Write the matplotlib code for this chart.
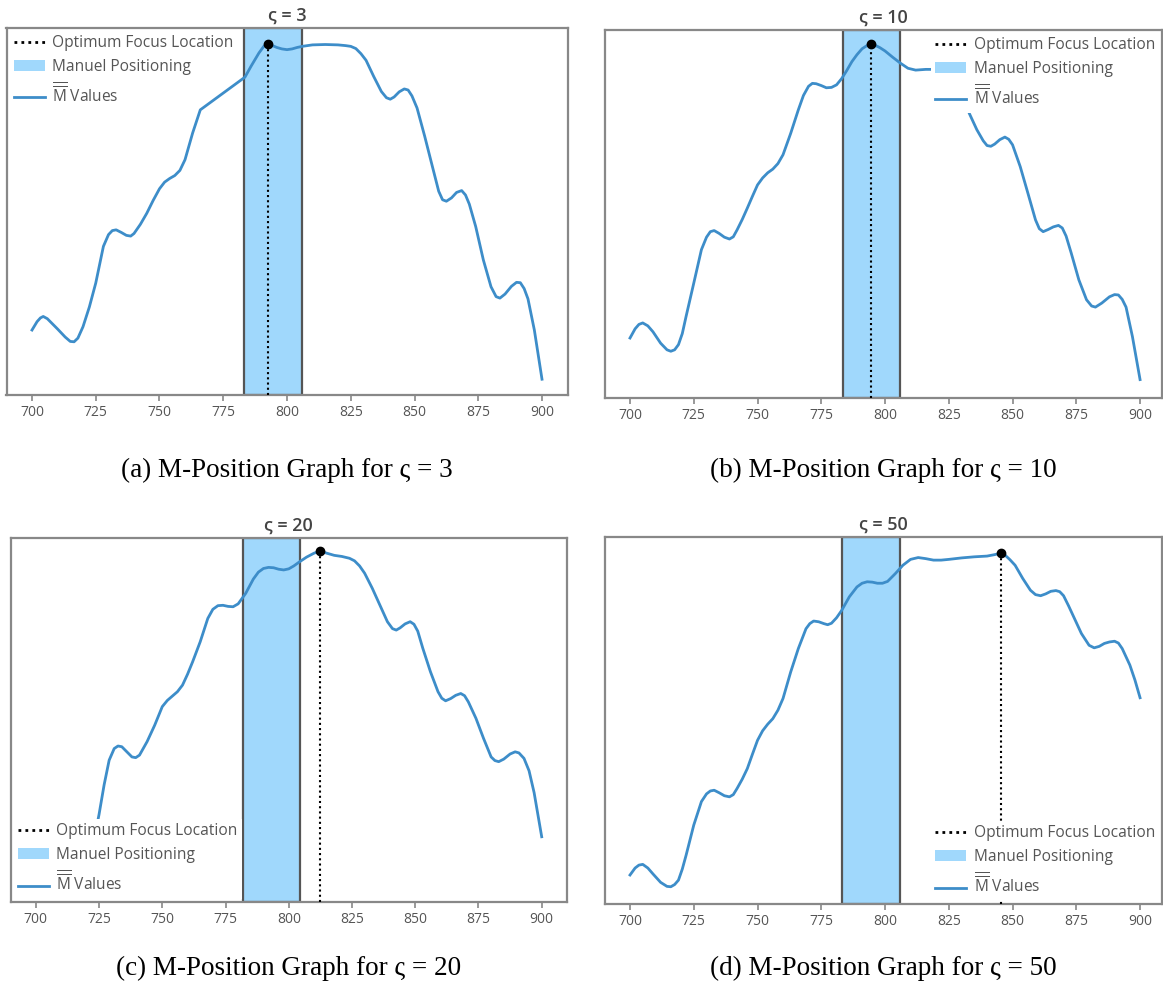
import matplotlib
matplotlib.use("Agg")
import matplotlib.pyplot as plt
from matplotlib.lines import Line2D
from matplotlib.patches import Patch

plt.rcParams['font.family'] = ['Open Sans', 'DejaVu Sans']
plt.rcParams['mathtext.fontset'] = 'custom'
plt.rcParams['mathtext.rm'] = 'Open Sans'

# ---- data (M values normalised to the plot height) ----
sigmas = [3, 10, 20, 50]
letters = ['a', 'b', 'c', 'd']

pos_a = [700, 702, 703.3, 704.4, 706, 708, 710, 713, 715, 716.5, 718, 720, 722.5, 725, 728,
         730, 731.5, 733, 735, 737, 738.7, 740, 742.5, 745, 747.5, 750, 752, 754, 756, 758,
         760, 763, 766, 783.5, 786, 789, 791, 792.5, 794, 796, 798, 800, 802, 804, 806, 810,
         815, 820, 823, 825, 827, 829, 831, 834, 837, 839, 840.5, 842, 844, 846, 847.5, 849,
         851, 854, 857, 859.5, 861, 862.5, 864.5, 866.5, 868.5, 870, 871.5, 874, 877, 880,
         882, 883.5, 885.5, 888, 890, 891.5, 893, 894.5, 897, 900]
m_a = [0.177, 0.200, 0.210, 0.214, 0.208, 0.194, 0.180, 0.158, 0.146, 0.145, 0.155, 0.186,
       0.240, 0.305, 0.405, 0.437, 0.448, 0.450, 0.443, 0.435, 0.433, 0.440, 0.465, 0.495,
       0.530, 0.562, 0.580, 0.590, 0.598, 0.612, 0.641, 0.714, 0.777, 0.866, 0.897, 0.932,
       0.951, 0.956, 0.953, 0.947, 0.943, 0.941, 0.943, 0.947, 0.950, 0.954, 0.955, 0.954,
       0.952, 0.950, 0.944, 0.930, 0.912, 0.868, 0.827, 0.810, 0.806, 0.812, 0.826, 0.834,
       0.831, 0.815, 0.782, 0.705, 0.623, 0.555, 0.532, 0.528, 0.537, 0.552, 0.557, 0.545,
       0.520, 0.459, 0.368, 0.295, 0.268, 0.264, 0.275, 0.296, 0.307, 0.306, 0.290, 0.262,
       0.177, 0.043]

pos_b = [700, 702, 703.5, 705, 707, 709, 712, 714.5, 716, 717.5, 719, 720.5, 722, 725, 728,
         730, 731.5, 733, 735, 737, 739, 740.5, 742, 744, 746, 748, 750, 752, 754, 756, 758,
         760, 763, 766, 768, 770, 771.5, 773, 775, 777, 779, 781, 783, 785, 787, 789, 791, 793,
         794.5, 796, 798, 800, 803, 806, 809, 812, 816, 820, 824, 828, 831, 833, 836, 838.5,
         840, 841.5, 843, 845, 847, 848.5, 850, 853, 856, 859, 860.5, 862, 864, 866, 868,
         869.5, 871, 873, 876, 879, 881, 882.5, 885, 888, 890, 891.5, 893, 894.5, 897, 900]
m_b = [0.163, 0.188, 0.200, 0.204, 0.196, 0.180, 0.149, 0.131, 0.127, 0.131, 0.145, 0.175,
       0.222, 0.312, 0.403, 0.437, 0.452, 0.455, 0.447, 0.437, 0.432, 0.438, 0.457, 0.485,
       0.516, 0.548, 0.579, 0.598, 0.612, 0.622, 0.637, 0.661, 0.719, 0.783, 0.822, 0.847,
       0.855, 0.854, 0.849, 0.843, 0.844, 0.851, 0.868, 0.890, 0.914, 0.933, 0.949, 0.958,
       0.961, 0.959, 0.952, 0.943, 0.926, 0.910, 0.896, 0.891, 0.893, 0.893, 0.885, 0.860,
       0.815, 0.774, 0.729, 0.699, 0.686, 0.684, 0.690, 0.702, 0.709, 0.703, 0.688, 0.629,
       0.557, 0.484, 0.460, 0.452, 0.458, 0.465, 0.469, 0.462, 0.440, 0.394, 0.321, 0.267,
       0.250, 0.247, 0.258, 0.275, 0.281, 0.280, 0.268, 0.247, 0.167, 0.050]

pos_c = [700, 702, 704, 707, 710, 713, 716, 718, 720, 723, 725, 727, 729, 731, 732.5, 734,
         736, 738, 739.5, 741, 744, 747, 750, 752, 754, 756, 758, 760, 762, 765, 768, 770,
         772, 774, 776, 778, 780, 783, 786, 788, 790, 792, 794, 796, 798, 800, 802, 804, 807,
         810, 812.5, 815, 818, 821, 824, 826, 828, 830, 833, 836, 839, 841, 842.5, 844, 846,
         848, 849.5, 851, 853, 856, 859, 860.5, 862, 864, 866, 868, 869.5, 871, 874, 877, 880,
         881.5, 883, 885, 887.5, 889.5, 891, 893, 895, 897, 900]
m_c = [0.10, 0.12, 0.13, 0.115, 0.09, 0.055, 0.04, 0.055, 0.09, 0.17, 0.240, 0.321, 0.389,
       0.421, 0.428, 0.426, 0.412, 0.398, 0.396, 0.403, 0.440, 0.485, 0.536, 0.553, 0.565,
       0.577, 0.595, 0.625, 0.659, 0.714, 0.778, 0.803, 0.813, 0.814, 0.811, 0.810, 0.818,
       0.847, 0.886, 0.905, 0.915, 0.918, 0.917, 0.913, 0.911, 0.914, 0.922, 0.932, 0.946,
       0.957, 0.963, 0.957, 0.951, 0.948, 0.943, 0.936, 0.922, 0.902, 0.861, 0.815, 0.769,
       0.750, 0.746, 0.752, 0.763, 0.769, 0.762, 0.743, 0.696, 0.632, 0.577, 0.559, 0.552,
       0.558, 0.567, 0.572, 0.566, 0.549, 0.504, 0.449, 0.398, 0.388, 0.385, 0.392, 0.406,
       0.412, 0.409, 0.394, 0.360, 0.300, 0.179]

pos_d = [700, 702, 703.5, 705, 707, 709, 712, 714.5, 716, 717.5, 719, 720.5, 722, 725, 728,
         730, 731.5, 733, 735, 737, 739, 740.5, 742, 744, 746, 748, 750, 752, 754, 756, 758,
         760, 763, 766, 769, 770.5, 772, 774, 776, 777.5, 779, 781, 783, 786, 789, 791, 793,
         795, 797, 799, 801, 804, 807, 810, 813, 816, 819, 822, 825, 830, 835, 840, 843, 845.5,
         847, 849, 851, 854, 857, 859, 861, 863, 865, 867, 868.5, 870, 872, 874, 877, 880, 882,
         884, 886, 888, 890, 891.5, 893, 896, 898, 900]
m_d = [0.079, 0.098, 0.106, 0.108, 0.098, 0.082, 0.059, 0.048, 0.047, 0.053, 0.065, 0.095,
       0.133, 0.215, 0.279, 0.300, 0.308, 0.310, 0.303, 0.295, 0.292, 0.298, 0.315, 0.340,
       0.369, 0.408, 0.446, 0.472, 0.490, 0.505, 0.528, 0.560, 0.632, 0.696, 0.750, 0.764,
       0.771, 0.769, 0.764, 0.761, 0.765, 0.780, 0.800, 0.837, 0.864, 0.874, 0.878, 0.877,
       0.874, 0.874, 0.879, 0.900, 0.923, 0.939, 0.944, 0.941, 0.937, 0.937, 0.939, 0.943,
       0.946, 0.948, 0.952, 0.956, 0.951, 0.938, 0.923, 0.887, 0.855, 0.843, 0.840, 0.845,
       0.852, 0.854, 0.851, 0.840, 0.812, 0.782, 0.737, 0.705, 0.698, 0.702, 0.710, 0.714,
       0.716, 0.711, 0.696, 0.651, 0.610, 0.562]

optimum = [792.5, 794.5, 812.5, 845.5]
manual_lo = [783.0, 783.4, 781.9, 783.3]
manual_hi = [806.0, 805.8, 804.4, 805.7]
ticks = [700, 725, 750, 775, 800, 825, 850, 875, 900]

positions = [pos_a, pos_b, pos_c, pos_d]
m_values = [m_a, m_b, m_c, m_d]
legend_loc = ['upper left', 'upper right', 'lower left', 'lower right']

# axes boxes in pixels: left, top, right, bottom, x max
W, H = 1163, 989
boxes = [(6.5, 28, 567.5, 395, 910),
         (604.5, 30, 1162, 398, 908.6),
         (10.5, 537.5, 567, 902, 910),
         (604.5, 537, 1162, 904, 908.6)]

LINE = '#3d8dc9'
SPAN = '#a0d8fc'

fig = plt.figure(figsize=(W / 100, H / 100), dpi=100)

for i in range(4):
    l, t, r, b, xmax = boxes[i]
    ax = fig.add_axes([l / W, 1 - b / H, (r - l) / W, (b - t) / H])

    ax.axvspan(manual_lo[i], manual_hi[i], facecolor=SPAN, edgecolor='#555555',
               linewidth=1.6, zorder=1)
    ax.plot(positions[i], m_values[i], color=LINE, linewidth=2, solid_joinstyle='round',
            zorder=6 if i == 0 else 2)
    k = positions[i].index(optimum[i])
    ax.vlines(optimum[i], 0, m_values[i][k], colors='black',
              linestyles=(0, (1, 1.5)), linewidth=1.5, zorder=3)
    ax.plot(optimum[i], m_values[i][k], 'o', color='black', markersize=6, zorder=7)

    ax.set_xlim(690, xmax)
    ax.set_ylim(0, 1)
    ax.set_xticks(ticks)
    ax.set_yticks([])
    ax.tick_params(axis='x', colors='#888888', labelcolor='#555555', labelsize=10,
                   length=4, width=1.2)
    for s in ax.spines.values():
        s.set_color('#888888')
        s.set_linewidth(1.6)

    ax.set_title('ς = %d' % sigmas[i], fontsize=13, fontweight='semibold',
                 color='#444444', pad=5)

    handles = [Line2D([], [], color='black', linestyle=(0, (1, 1.5)), linewidth=2),
               Patch(facecolor=SPAN, edgecolor='none'),
               Line2D([], [], color=LINE, linewidth=2)]
    labels = ['Optimum Focus Location', 'Manuel Positioning',
              r'$\overline{\overline{\mathrm{M}}}$ Values']
    leg = ax.legend(handles, labels, loc=legend_loc[i], fontsize=11.2, frameon=True,
                    facecolor='white', edgecolor='none', framealpha=1, fancybox=False,
                    handlelength=2.0, handletextpad=0.5, labelspacing=0.5,
                    borderaxespad=0.2, borderpad=0.25)
    for txt in leg.get_texts():
        txt.set_color('#555555')
    leg.set_zorder(5)

    cx = (l + r) / 2 / W
    cy = 1 - (470 if i < 2 else 968) / H
    fig.text(cx, cy, '(%s) M-Position Graph for ς = %d' % (letters[i], sigmas[i]),
             family='Liberation Serif', fontsize=19.5, ha='center', va='center')

fig.savefig('out.png', dpi=100)
